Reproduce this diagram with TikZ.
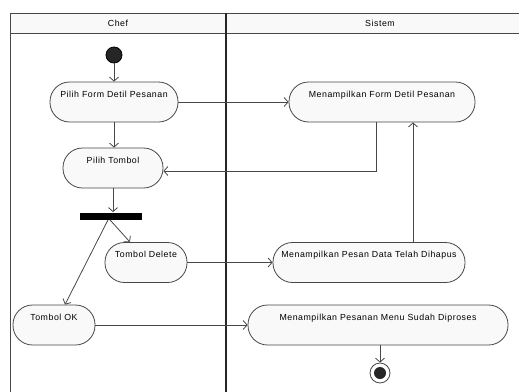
\documentclass[tikz,border=0pt]{standalone}
\usepackage{fontspec}
\setmainfont{Liberation Sans}[LetterSpace=6]
\usetikzlibrary{arrows.meta,positioning,calc}
\definecolor{linegray}{HTML}{474747}
\definecolor{actfill}{HTML}{F9F9F9}

\begin{document}
\begin{tikzpicture}[x=1pt,y=-1pt,line width=0.8pt,
        every node/.style={font=\fontsize{8.8}{10}\selectfont},
        act/.style={draw=linegray,fill=actfill,rounded corners=19.5pt,minimum height=40pt,
        inner xsep=2pt,inner ysep=4pt,text height=11pt,text depth=21pt},
        flow/.style={draw=linegray,-{Straight Barb[length=4pt,width=9pt]}},
        startnode/.style={circle,fill=black!85,draw=black,minimum size=16pt,inner sep=0pt},
        endnode/.style={circle,draw=linegray,fill=white,minimum size=20pt,inner sep=0pt,
        path picture={\fill[black!85] (path picture bounding box.center) circle (6pt);}},
        forkbar/.style={fill=black,minimum width=62pt,minimum height=7pt,inner sep=0pt}]

        \useasboundingbox (0,0) rectangle (519,391);

        % Swimlanes
        \draw[linegray,fill=actfill] (10,13) rectangle (522,33);
        \draw[linegray] (10,13) -- (10,393);
        \draw[black!85,line width=2pt] (225.5,13) -- (225.5,393);
        \node (chef) at (118,23) {Chef};
        \node (sistem) at (380,23) {Sistem};

        % Chef
        \node[startnode] (start) at (114,55) {};
        \node[act,minimum width=128pt] (pfdp) at (114,102) {Pilih Form Detil Pesanan};
        \node[act,minimum width=100pt] (tombol) at (113,168) {Pilih Tombol};
        \node[forkbar] (fork) at (111,216) {};
        \node[act,minimum width=82pt] (delete) at (146,262.5) {Tombol Delete};
        \node[act,minimum width=82pt] (ok) at (54,325) {Tombol OK};

        % Sistem
        \node[act,minimum width=186pt] (mfdp) at (382,102) {Menampilkan Form Detil Pesanan};
        \node[act,minimum width=192pt] (mpdtd) at (369,262.5) {Menampilkan Pesan Data Telah Dihapus};
        \node[act,minimum width=260pt] (mpmsd) at (378,325) {Menampilkan Pesanan Menu Sudah Diproses};
        \node[endnode] (end) at (380,373) {};

        \draw[flow] (start) -- (pfdp);
        \draw[flow] (pfdp.east) -- (mfdp.west);
        \draw[flow] (pfdp.south) -- (pfdp.south|-tombol.north);
        \draw[flow] ([xshift=-6pt]mfdp.south) |- ([yshift=-3pt]tombol.east);
        \draw[flow] (tombol.south) -- (tombol.south|-fork.north);
        \draw[flow] ([xshift=-1pt]fork.south) -- ([xshift=-16pt]delete.north);
        \draw[flow] ([xshift=-3pt]fork.south) -- ([xshift=11pt]ok.north);
        \draw[flow] (delete.east) -- (mpdtd.west);
        \draw[flow] ([xshift=44pt]mpdtd.north) coordinate(aux) -- (aux|-mfdp.south);
        \draw[flow] (ok.east) -- (mpmsd.west);
        \draw[flow] (mpmsd.south-|end) -- (end.north);

    \end{tikzpicture}
\end{document}
